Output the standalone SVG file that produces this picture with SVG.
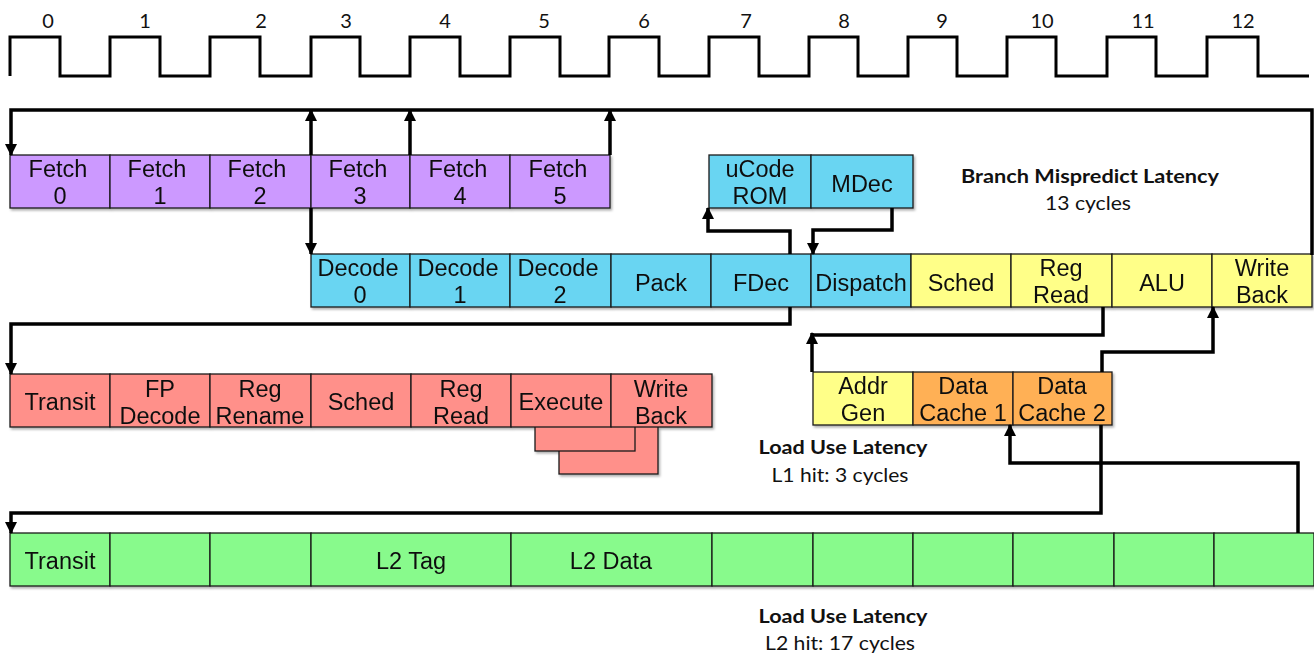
<svg xmlns="http://www.w3.org/2000/svg" width="1314" height="654" viewBox="0 0 1314 654">
<style>
.c{stroke:#1a1a1a;stroke-width:1.3}
.p{fill:#CC99FF}.b{fill:#69D5F2}.y{fill:#FFFF88}.r{fill:#FF908A}.o{fill:#FFB055}.g{fill:#88FA8C}
.t{font-family:"Liberation Sans",Arial,sans-serif;font-size:23.5px;fill:#111;text-anchor:middle}
.n{font-family:Lato,"Open Sans",sans-serif;font-size:20px;fill:#111;text-anchor:middle}
.h{font-family:Lato,"Open Sans",sans-serif;font-size:19.5px;font-weight:bold;fill:#111;text-anchor:middle}
.w{fill:none;stroke:#000;stroke-width:3.5}
.l{fill:none;stroke:#000;stroke-width:3.5;marker-end:url(#ah)}
.s{filter:url(#sh)}
</style>
<defs>
<marker id="ah" markerUnits="userSpaceOnUse" markerWidth="12" markerHeight="12" refX="11" refY="6" orient="auto"><path d="M0,0 L12,6 L0,12 z" fill="#000"/></marker>
<filter id="sh" x="-5%" y="-10%" width="110%" height="130%"><feDropShadow dx="1.5" dy="2" stdDeviation="1.2" flood-color="#000" flood-opacity="0.3"/></filter>
</defs>

<g id="clock">
<path class="w" d="M10,76 V37 H60 V76 H110 V37 H160 V76 H210 V37 H260 V76 H311 V37 H360 V76 H410 V37 H460 V76 H510 V37 H560 V76 H609 V37 H659 V76 H709 V37 H759 V76 H809 V37 H858 V76 H908 V37 H957 V76 H1007 V37 H1056 V76 H1107 V37 H1156 V76 H1207 V37 H1258 V76 H1309" style="stroke-width:3"/>
<text class="n" x="48" y="28">0</text>
<text class="n" x="145" y="28">1</text>
<text class="n" x="261" y="28">2</text>
<text class="n" x="346" y="28">3</text>
<text class="n" x="445" y="28">4</text>
<text class="n" x="544" y="28">5</text>
<text class="n" x="644" y="28">6</text>
<text class="n" x="746" y="28">7</text>
<text class="n" x="844" y="28">8</text>
<text class="n" x="942" y="28">9</text>
<text class="n" x="1042" y="28">10</text>
<text class="n" x="1143" y="28">11</text>
<text class="n" x="1243" y="28">12</text>
</g>

<g id="fetch" class="s">
<rect class="c p" x="10" y="155" width="100" height="53"/>
<rect class="c p" x="110" y="155" width="100" height="53"/>
<rect class="c p" x="210" y="155" width="101" height="53"/>
<rect class="c p" x="311" y="155" width="99" height="53"/>
<rect class="c p" x="410" y="155" width="100" height="53"/>
<rect class="c p" x="510" y="155" width="100" height="53"/>
<text class="t" x="58" y="177">Fetch</text><text class="t" x="60" y="204">0</text>
<text class="t" x="157" y="177">Fetch</text><text class="t" x="160" y="204">1</text>
<text class="t" x="257" y="177">Fetch</text><text class="t" x="260" y="204">2</text>
<text class="t" x="358" y="177">Fetch</text><text class="t" x="360" y="204">3</text>
<text class="t" x="458" y="177">Fetch</text><text class="t" x="460" y="204">4</text>
<text class="t" x="558" y="177">Fetch</text><text class="t" x="560" y="204">5</text>
</g>

<g id="ucode" class="s">
<rect class="c b" x="709" y="155" width="102" height="53"/>
<rect class="c b" x="811" y="155" width="102" height="53"/>
<text class="t" x="760" y="177">uCode</text><text class="t" x="760" y="204">ROM</text>
<text class="t" x="862" y="192">MDec</text>
</g>

<g id="decode" class="s">
<rect class="c b" x="311" y="254" width="99" height="53"/>
<rect class="c b" x="410" y="254" width="100" height="53"/>
<rect class="c b" x="510" y="254" width="101" height="53"/>
<rect class="c b" x="611" y="254" width="100" height="53"/>
<rect class="c b" x="711" y="254" width="100" height="53"/>
<rect class="c b" x="811" y="254" width="100" height="53"/>
<rect class="c y" x="911" y="254" width="100" height="53"/>
<rect class="c y" x="1011" y="254" width="101" height="53"/>
<rect class="c y" x="1112" y="254" width="100" height="53"/>
<rect class="c y" x="1212" y="254" width="100" height="53"/>
<text class="t" x="358" y="276">Decode</text><text class="t" x="360" y="303">0</text>
<text class="t" x="458" y="276">Decode</text><text class="t" x="460" y="303">1</text>
<text class="t" x="558" y="276">Decode</text><text class="t" x="560" y="303">2</text>
<text class="t" x="661" y="291">Pack</text>
<text class="t" x="761" y="291">FDec</text>
<text class="t" x="861" y="291">Dispatch</text>
<text class="t" x="961" y="291">Sched</text>
<text class="t" x="1061" y="276">Reg</text><text class="t" x="1061" y="303">Read</text>
<text class="t" x="1162" y="291">ALU</text>
<text class="t" x="1262" y="276">Write</text><text class="t" x="1262" y="303">Back</text>
</g>

<g id="fp" class="s">
<rect class="c r" x="559" y="421" width="99" height="53"/>
<rect class="c r" x="535" y="398" width="100" height="53"/>
<rect class="c r" x="10" y="374" width="100" height="53"/>
<rect class="c r" x="110" y="374" width="100" height="53"/>
<rect class="c r" x="210" y="374" width="101" height="53"/>
<rect class="c r" x="311" y="374" width="100" height="53"/>
<rect class="c r" x="411" y="374" width="100" height="53"/>
<rect class="c r" x="511" y="374" width="100" height="53"/>
<rect class="c r" x="611" y="374" width="101" height="53"/>
<text class="t" x="60" y="410">Transit</text>
<text class="t" x="160" y="397">FP</text><text class="t" x="160" y="424">Decode</text>
<text class="t" x="260" y="397">Reg</text><text class="t" x="260" y="424">Rename</text>
<text class="t" x="361" y="410">Sched</text>
<text class="t" x="461" y="397">Reg</text><text class="t" x="461" y="424">Read</text>
<text class="t" x="561" y="410">Execute</text>
<text class="t" x="661" y="397">Write</text><text class="t" x="661" y="424">Back</text>
</g>

<g id="load" class="s">
<rect class="c y" x="813" y="372" width="100" height="53"/>
<rect class="c o" x="913" y="372" width="100" height="53"/>
<rect class="c o" x="1013" y="372" width="99" height="53"/>
<text class="t" x="863" y="394">Addr</text><text class="t" x="863" y="421">Gen</text>
<text class="t" x="963" y="394">Data</text><text class="t" x="963" y="421">Cache 1</text>
<text class="t" x="1062" y="394">Data</text><text class="t" x="1062" y="421">Cache 2</text>
</g>

<g id="l2" class="s">
<rect class="c g" x="10" y="533" width="100" height="53"/>
<rect class="c g" x="110" y="533" width="100" height="53"/>
<rect class="c g" x="210" y="533" width="101" height="53"/>
<rect class="c g" x="311" y="533" width="200" height="53"/>
<rect class="c g" x="511" y="533" width="201" height="53"/>
<rect class="c g" x="712" y="533" width="101" height="53"/>
<rect class="c g" x="813" y="533" width="100" height="53"/>
<rect class="c g" x="913" y="533" width="100" height="53"/>
<rect class="c g" x="1013" y="533" width="101" height="53"/>
<rect class="c g" x="1114" y="533" width="100" height="53"/>
<rect class="c g" x="1214" y="533" width="100" height="53"/>
<text class="t" x="60" y="569">Transit</text>
<text class="t" x="411" y="569">L2 Tag</text>
<text class="t" x="611" y="569">L2 Data</text>
</g>

<g id="labels">
<text class="h" x="1090" y="183" textLength="258" lengthAdjust="spacingAndGlyphs">Branch Mispredict Latency</text>
<text class="n" x="1088" y="210" textLength="86" lengthAdjust="spacingAndGlyphs">13 cycles</text>
<text class="h" x="843" y="454" textLength="169" lengthAdjust="spacingAndGlyphs">Load Use Latency</text>
<text class="n" x="840" y="482" textLength="137" lengthAdjust="spacingAndGlyphs">L1 hit: 3 cycles</text>
<text class="h" x="843" y="623" textLength="169" lengthAdjust="spacingAndGlyphs">Load Use Latency</text>
<text class="n" x="840" y="650" textLength="150" lengthAdjust="spacingAndGlyphs">L2 hit: 17 cycles</text>
</g>

<g id="connectors">
<path class="l" d="M1312,255 V110 H11 V155"/>
<path class="l" d="M311,155 V110"/>
<path class="l" d="M410,155 V110"/>
<path class="l" d="M610,155 V110"/>
<path class="l" d="M311,208 V254"/>
<path class="l" d="M790,254 V231 H708 V208"/>
<path class="l" d="M892,208 V230 H813 V254"/>
<path class="l" d="M790,307 V324 H11 V374"/>
<path class="w" d="M1103,307 V335 H812"/>
<path class="l" d="M812,372 V333"/>
<path class="l" d="M1102,372 V352 H1213 V307"/>
<path class="l" d="M1298,533 V463 H1010 V425"/>
<path class="l" d="M1101,425 V513 H11 V533"/>
</g>
</svg>
